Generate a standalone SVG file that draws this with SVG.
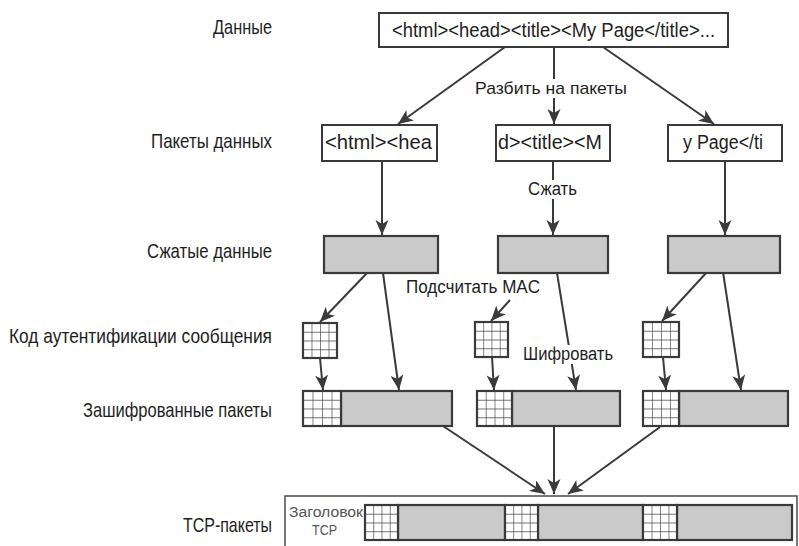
<svg xmlns="http://www.w3.org/2000/svg" width="799" height="546" viewBox="0 0 799 546">
<style>
text{font-family:"Liberation Sans",Arial,sans-serif;fill:#1e1e1e}
.lbl{font-size:21px}
.box{fill:#fff;stroke:#3a3a3a;stroke-width:2}
.gray{fill:#cacaca;stroke:#3a3a3a;stroke-width:2.2}
.grid{fill:url(#grid);stroke:#3a3a3a;stroke-width:2.2}
.con{stroke:#3a3a3a;stroke-width:2;fill:none;marker-end:url(#ah)}
.bg{fill:#fff}
</style>
<defs>
<marker id="ah" markerUnits="userSpaceOnUse" markerWidth="18" markerHeight="14" refX="15" refY="6.5" orient="auto">
<path d="M0,0 L15,6.5 L0,13 L4,6.5 z" fill="#3a3a3a"/>
</marker>
<pattern id="grid" patternUnits="objectBoundingBox" width="0.25" height="0.25">
<rect width="40" height="40" fill="#fff"/>
<path d="M0 0H40M0 0V40" stroke="#444" stroke-width="1.3"/>
</pattern>
</defs>
<rect width="799" height="546" fill="#fff"/>

<g id="row-labels">
<text class="lbl" x="213" y="34" textLength="59" lengthAdjust="spacingAndGlyphs">Данные</text>
<text class="lbl" x="151" y="148" textLength="121" lengthAdjust="spacingAndGlyphs">Пакеты  данных</text>
<text class="lbl" x="147" y="258" textLength="125" lengthAdjust="spacingAndGlyphs">Сжатые  данные</text>
<text class="lbl" x="9" y="343" textLength="263" lengthAdjust="spacingAndGlyphs">Код  аутентификации  сообщения</text>
<text class="lbl" x="83" y="417" textLength="189" lengthAdjust="spacingAndGlyphs">Зашифрованные  пакеты</text>
<text class="lbl" x="183" y="532" textLength="89" lengthAdjust="spacingAndGlyphs">TCP-пакеты</text>
</g>

<g id="connectors">
<line class="con" x1="505" y1="47" x2="398" y2="124"/>
<line class="con" x1="554" y1="47" x2="554" y2="124"/>
<line class="con" x1="603" y1="47" x2="714" y2="124"/>
<line class="con" x1="382" y1="161" x2="382" y2="235"/>
<line class="con" x1="553" y1="161" x2="553" y2="235"/>
<line class="con" x1="725" y1="161" x2="725" y2="235"/>
<line class="con" x1="367" y1="273" x2="320" y2="322"/>
<line class="con" x1="383" y1="273" x2="399" y2="390"/>
<line class="con" x1="320" y1="358" x2="323" y2="390"/>
<line class="con" x1="510" y1="300" x2="491" y2="321"/>
<line class="con" x1="557" y1="273" x2="576" y2="390"/>
<line class="con" x1="492" y1="357" x2="494" y2="390"/>
<line class="con" x1="707" y1="272" x2="662" y2="321"/>
<line class="con" x1="723" y1="272" x2="741" y2="390"/>
<line class="con" x1="663" y1="357" x2="666" y2="390"/>
<line class="con" x1="443" y1="426" x2="545" y2="494"/>
<line class="con" x1="554" y1="426" x2="554" y2="494"/>
<line class="con" x1="660" y1="427" x2="568" y2="494"/>
</g>

<g id="edge-labels">
<rect class="bg" x="472" y="79" width="158" height="19"/>
<text x="475" y="94" font-size="17" textLength="152" lengthAdjust="spacingAndGlyphs">Разбить  на  пакеты</text>
<rect class="bg" x="526" y="180" width="53" height="19"/>
<text x="528" y="195" font-size="18" textLength="49" lengthAdjust="spacingAndGlyphs">Сжать</text>
<text x="406" y="293" font-size="18" textLength="134" lengthAdjust="spacingAndGlyphs">Подсчитать  MAC</text>
<rect class="bg" x="521" y="345" width="94" height="19"/>
<text x="523" y="360" font-size="18" textLength="90" lengthAdjust="spacingAndGlyphs">Шифровать</text>
</g>

<g id="data">
<rect class="box" x="379" y="13" width="349" height="34"/>
<text x="392" y="37" font-size="20" textLength="323" lengthAdjust="spacingAndGlyphs">&lt;html&gt;&lt;head&gt;&lt;title&gt;&lt;My Page&lt;/title&gt;...</text>
</g>

<g id="packet-1">
<rect class="box" x="322" y="125" width="115" height="36"/>
<text x="325" y="149" font-size="20" textLength="107" lengthAdjust="spacingAndGlyphs">&lt;html&gt;&lt;hea</text>
</g>
<g id="packet-2">
<rect class="box" x="496" y="125" width="114" height="36"/>
<text x="498" y="149" font-size="20" textLength="104" lengthAdjust="spacingAndGlyphs">d&gt;&lt;title&gt;&lt;M</text>
</g>
<g id="packet-3">
<rect class="box" x="668" y="125" width="114" height="36"/>
<text x="683" y="149" font-size="20" textLength="80" lengthAdjust="spacingAndGlyphs">y  Page&lt;/ti</text>
</g>

<g id="compressed-1"><rect class="gray" x="324" y="236" width="114" height="37"/></g>
<g id="compressed-2"><rect class="gray" x="498" y="236" width="110" height="37"/></g>
<g id="compressed-3"><rect class="gray" x="668" y="236" width="112" height="37"/></g>

<g id="mac-1"><rect class="grid" x="303" y="323" width="34" height="35"/></g>
<g id="mac-2"><rect class="grid" x="475" y="322" width="33" height="35"/></g>
<g id="mac-3"><rect class="grid" x="643" y="322" width="36" height="35"/></g>

<g id="encrypted-1">
<rect class="gray" x="341" y="391" width="111" height="35"/>
<rect class="grid" x="303" y="391" width="38" height="35"/>
</g>
<g id="encrypted-2">
<rect class="gray" x="512" y="391" width="108" height="35"/>
<rect class="grid" x="477" y="391" width="35" height="35"/>
</g>
<g id="encrypted-3">
<rect class="gray" x="679" y="391" width="109" height="35"/>
<rect class="grid" x="643" y="391" width="36" height="35"/>
</g>

<g id="tcp">
<rect x="285" y="496" width="512" height="70" fill="#fff" stroke="#555" stroke-width="1.6"/>
<text x="289" y="517" font-size="14" style="fill:#555" textLength="74" lengthAdjust="spacingAndGlyphs">Заголовок</text>
<text x="312" y="535" font-size="14" style="fill:#555" textLength="25" lengthAdjust="spacingAndGlyphs">TCP</text>
<rect class="gray" x="398" y="505" width="107" height="35"/>
<rect class="grid" x="365" y="505" width="33" height="35"/>
<rect class="gray" x="538" y="505" width="105" height="35"/>
<rect class="grid" x="505" y="505" width="33" height="35"/>
<rect class="gray" x="677" y="505" width="115" height="35"/>
<rect class="grid" x="643" y="505" width="34" height="35"/>
</g>
</svg>
